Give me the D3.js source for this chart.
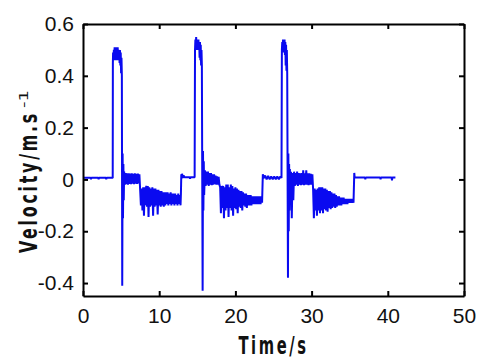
<!DOCTYPE html>
<html>
<head>
<meta charset="utf-8">
<script src="https://cdn.jsdelivr.net/npm/d3@7"></script>
<style>
  body { margin: 0; background: #fff; }
  svg { display: block; }
</style>
</head>
<body>
<div id="chart"></div>
<script>
// Data (time in s, velocity in m/s) -----------------------------------------------------------------------------
const restStartT = [0, 1.0, 1.05, 1.1, 2.0, 2.05, 2.1, 3.0, 3.05, 3.1, 3.9];
const restStartV = [0.006, 0.006, 0.001, 0.006, 0.006, 0.001, 0.006, 0.006, 0.001, 0.006, 0.006];

// cycle 1: pulse, fall, first settling band
const cycle1T = [
  3.92, 3.95, 4.0, 4.05, 4.1, 4.15, 4.2, 4.25, 4.3, 4.35, 4.4, 4.45, 4.5, 4.55, 4.6, 4.65, 4.7, 4.75, 4.8, 4.85, 4.9, 4.95, 5.0, 5.05, 5.1,
  5.15, 5.2, 5.25, 5.3, 5.35,
  5.4, 5.5, 5.6, 5.7, 5.8, 5.9, 6.0, 6.1, 6.2, 6.3, 6.4, 6.5, 6.6, 6.7, 6.8, 6.9, 7.0, 7.1, 7.2, 7.3, 7.4
];
const cycle1V = [
  0.45, 0.49, 0.46, 0.50, 0.46, 0.51, 0.47, 0.51, 0.46, 0.51, 0.47, 0.51, 0.46, 0.51, 0.47, 0.50, 0.46, 0.50, 0.45, 0.50, 0.44, 0.49, 0.41, 0.47, 0.40,
  -0.41, 0.10, -0.15, 0.06, -0.08,
  0.03, -0.02, 0.025, -0.018, 0.024, -0.02, 0.024, -0.017, 0.023, -0.018, 0.024, -0.016, 0.022, -0.018, 0.024, -0.016, 0.022, -0.017, 0.023, -0.015, 0.02
];
// cycle 1: second settling band and level
const settle1T = [
  7.5, 7.6, 7.7, 7.8, 7.9, 8.0, 8.1, 8.2, 8.3, 8.4, 8.5, 8.6, 8.7, 8.8, 8.9, 9.0, 9.1, 9.2, 9.3, 9.4, 9.5, 9.6, 9.7, 9.8, 9.9, 10.0, 10.1,
  10.2, 10.3, 10.4, 10.5, 10.6, 10.7, 10.8, 10.9, 11.0, 11.1, 11.2, 11.3, 11.4, 11.5, 11.6, 11.7, 11.8, 11.9, 12.0, 12.1, 12.2, 12.3, 12.4, 12.5, 12.6, 12.7, 12.8,
  12.85, 12.9, 12.95, 13.0, 13.1, 13.2, 13.3, 14.0, 14.05, 14.1, 14.65
];
const settle1V = [
  -0.04, -0.10, -0.035, -0.12, -0.03, -0.14, -0.03, -0.10, -0.025, -0.105, -0.025, -0.145, -0.03, -0.105, -0.035, -0.10, -0.03, -0.14, -0.035, -0.105, -0.035, -0.10, -0.04, -0.135, -0.04, -0.10, -0.045,
  -0.105, -0.045, -0.10, -0.05, -0.105, -0.05, -0.10, -0.05, -0.095, -0.05, -0.10, -0.055, -0.095, -0.05, -0.10, -0.055, -0.095, -0.055, -0.10, -0.055, -0.095, -0.06, -0.10, -0.055, -0.095, -0.06, -0.10,
  -0.055, 0.02, 0.004, 0.022, 0.006, 0.016, 0.008, 0.008, 0.003, 0.008, 0.008
];

// cycle 2
const cycle2T = [
  14.7, 14.75, 14.8, 14.85, 14.9, 14.95, 15.0, 15.05, 15.1, 15.15, 15.2, 15.25, 15.3, 15.35, 15.4, 15.45, 15.5, 15.55, 15.6,
  15.7, 15.75, 15.8, 15.85, 15.9,
  16.0, 16.1, 16.2, 16.3, 16.4, 16.5, 16.6, 16.7, 16.8, 16.9, 17.0, 17.1, 17.2, 17.3, 17.4, 17.5, 17.6, 17.7, 17.8, 17.9
];
const cycle2V = [
  0.50, 0.54, 0.50, 0.55, 0.51, 0.54, 0.50, 0.54, 0.51, 0.54, 0.50, 0.53, 0.47, 0.53, 0.46, 0.52, 0.44, 0.50, 0.44,
  -0.43, 0.11, -0.12, 0.07, -0.06,
  0.035, -0.025, 0.03, -0.02, 0.03, -0.025, 0.025, -0.02, 0.025, -0.022, 0.02, -0.02, 0.02, -0.018, 0.015, -0.02, 0.012, -0.02, 0.01, -0.02
];
const settle2T = [
  18.0, 18.1, 18.2, 18.3, 18.4, 18.5, 18.6, 18.7, 18.8, 18.9, 19.0, 19.1, 19.2, 19.3, 19.4, 19.5, 19.6, 19.7, 19.8, 19.9, 20.0, 20.1, 20.2, 20.3, 20.4, 20.5, 20.6, 20.7,
  20.8, 20.9, 21.0, 21.1, 21.2, 21.3, 21.4, 21.5, 21.6, 21.7, 21.8, 21.9, 22.0, 22.1, 22.2, 22.3, 22.4, 22.5, 22.6, 22.7, 22.8, 22.9, 23.0, 23.1, 23.2, 23.3, 23.4, 23.5,
  23.6, 23.7, 23.9, 24.1, 24.3, 24.5, 24.7, 24.9, 25.1, 25.3, 25.5, 25.7, 25.9, 26.05
];
const settle2V = [
  -0.03, -0.13, -0.025, -0.11, -0.025, -0.15, -0.03, -0.12, -0.02, -0.11, -0.02, -0.145, -0.03, -0.11, -0.02, -0.12, -0.025, -0.14, -0.035, -0.11, -0.03, -0.115, -0.035, -0.13, -0.04, -0.105, -0.045, -0.11,
  -0.045, -0.12, -0.05, -0.10, -0.055, -0.105, -0.055, -0.11, -0.06, -0.10, -0.06, -0.10, -0.06, -0.10, -0.065, -0.095, -0.065, -0.095, -0.065, -0.095, -0.065, -0.095, -0.065, -0.095, -0.065, -0.095, -0.065, -0.09,
  0.02, 0.004, 0.015, 0.0, 0.014, 0.0, 0.012, 0.0, 0.012, 0.0, 0.012, 0.0, 0.012, 0.006
];

// cycle 3
const cycle3T = [
  26.1, 26.15, 26.2, 26.25, 26.3, 26.35, 26.4, 26.45, 26.5, 26.55, 26.6, 26.65, 26.7, 26.75, 26.8,
  26.9, 26.95, 27.0, 27.05, 27.1, 27.15, 27.2,
  27.3, 27.4, 27.5, 27.6, 27.7, 27.8, 27.9, 28.0, 28.1, 28.2, 28.3, 28.4, 28.5, 28.6, 28.7, 28.8, 28.9, 29.0, 29.1, 29.2, 29.3, 29.4, 29.5, 29.6, 29.7, 29.8, 29.9, 30.0, 30.1
];
const cycle3V = [
  0.50, 0.53, 0.50, 0.54, 0.49, 0.53, 0.50, 0.54, 0.48, 0.53, 0.44, 0.52, 0.42, 0.50, 0.41,
  -0.38, 0.10, -0.2, 0.06, -0.12, 0.04, -0.06,
  0.03, -0.15, 0.025, -0.08, 0.03, -0.025, 0.025, -0.02, 0.03, -0.025, 0.025, -0.02, 0.024, -0.022, 0.025, -0.02, 0.035, -0.022, 0.024, -0.02, 0.035, -0.02, 0.024, -0.022, 0.024, -0.02, 0.022, -0.02, 0.02
];
const settle3T = [
  30.2, 30.3, 30.4, 30.5, 30.6, 30.7, 30.8, 30.9, 31.0, 31.1, 31.2, 31.3, 31.4, 31.5, 31.6, 31.7, 31.8, 31.9, 32.0, 32.1, 32.2, 32.3, 32.4, 32.5, 32.6, 32.7, 32.8,
  32.9, 33.0, 33.1, 33.2, 33.3, 33.4, 33.5, 33.6, 33.7, 33.8, 33.9, 34.0, 34.1, 34.2, 34.3, 34.4, 34.5, 34.6, 34.7, 34.8, 34.9, 35.0, 35.1, 35.2, 35.3, 35.4, 35.5
];
const settle3V = [
  -0.04, -0.15, -0.035, -0.12, -0.04, -0.14, -0.035, -0.12, -0.03, -0.13, -0.03, -0.12, -0.03, -0.13, -0.035, -0.115, -0.035, -0.12, -0.04, -0.125, -0.045, -0.11, -0.045, -0.115, -0.05, -0.11, -0.055,
  -0.105, -0.055, -0.11, -0.06, -0.105, -0.065, -0.10, -0.065, -0.10, -0.07, -0.10, -0.07, -0.095, -0.07, -0.095, -0.075, -0.095, -0.075, -0.095, -0.075, -0.09, -0.075, -0.09, -0.075, -0.09, -0.075, -0.09
];

const restEndT = [35.6, 35.65, 37.0, 37.05, 37.1, 39.0, 39.05, 39.1, 40.5, 40.55, 40.6, 41.0];
const restEndV = [0.025, 0.007, 0.007, 0.001, 0.007, 0.007, 0.001, 0.007, 0.007, -0.004, 0.007, 0.007];

const xTicks = [0, 10, 20, 30, 40, 50];
const yTicks = [-0.4, -0.2, 0, 0.2, 0.4, 0.6];

// Canvas ---------------------------------------------------------------------------------------------------------
const canvasWidth = 483;
const canvasHeight = 361;
const leftPadding = 83;
const rightPadding = 19;
const topPadding = 24;
const bottomPadding = 65;

const svg = d3.select("#chart")
  .append("svg")
  .attr("width", canvasWidth)
  .attr("height", canvasHeight);

const xScale = d3.scaleLinear()
  .domain([0, 50])
  .range([leftPadding, canvasWidth - rightPadding]);
const yScale = d3.scaleLinear()
  .domain([-0.45, 0.6])
  .range([canvasHeight - bottomPadding, topPadding]);

const tickFont = "'Liberation Sans', Arial, sans-serif";
const titleFont = "'Liberation Sans Narrow', 'DejaVu Sans Condensed', sans-serif";

// Line -------------------------------------------------------------------------------------------------------------
const timeS = [].concat(restStartT, cycle1T, settle1T, cycle2T, settle2T, cycle3T, settle3T, restEndT);
const velocity = [].concat(restStartV, cycle1V, settle1V, cycle2V, settle2V, cycle3V, settle3V, restEndV);
const points = d3.zip(timeS, velocity);

svg.append("path")
  .datum(points)
  .attr("fill", "none")
  .attr("stroke", "#0a0af0")
  .attr("stroke-width", 2)
  .attr("stroke-linejoin", "bevel")
  .attr("d", d3.line().x(d => xScale(d[0])).y(d => yScale(d[1])));

// Axes (box with inward ticks) -----------------------------------------------------------------------------------
const xAxis = svg.append("g")
  .attr("transform", "translate(0," + (canvasHeight - bottomPadding) + ")")
  .call(d3.axisBottom(xScale).tickValues(xTicks).tickSizeInner(-5).tickSizeOuter(0).tickPadding(12)
    .tickFormat(d3.format("d")));
const yAxis = svg.append("g")
  .attr("transform", "translate(" + leftPadding + ",0)")
  .call(d3.axisLeft(yScale).tickValues(yTicks).tickSizeInner(-5).tickSizeOuter(0).tickPadding(9)
    .tickFormat(d => d === 0 ? "0" : d3.format(".1f")(d).replace("\u2212", "-")));
const topAxis = svg.append("g")
  .attr("transform", "translate(0," + topPadding + ")")
  .call(d3.axisTop(xScale).tickValues(xTicks).tickSizeInner(-5).tickSizeOuter(0).tickFormat(""));
const rightAxis = svg.append("g")
  .attr("transform", "translate(" + (canvasWidth - rightPadding) + ",0)")
  .call(d3.axisRight(yScale).tickValues(yTicks).tickSizeInner(-5).tickSizeOuter(0).tickFormat(""));

svg.selectAll(".domain")
  .attr("stroke", "#000")
  .attr("stroke-width", 2);
svg.selectAll(".tick line")
  .attr("stroke", "#000")
  .attr("stroke-width", 2);
svg.selectAll(".tick text")
  .attr("fill", "#111")
  .style("font-family", tickFont)
  .style("font-size", "21px");

// Axis titles ----------------------------------------------------------------------------------------------------
svg.append("text")
  .attr("transform", "translate(" + ((leftPadding + canvasWidth - rightPadding) / 2 - 35) + ",354) scale(1,1.3)")
  .attr("textLength", 70)
  .attr("lengthAdjust", "spacingAndGlyphs")
  .style("font-family", titleFont)
  .style("font-weight", "bold")
  .style("font-size", "19px")
  .style("letter-spacing", "3px")
  .attr("fill", "#111")
  .text("Time/s");

svg.append("text")
  .attr("transform", "translate(37,253) rotate(-90) scale(1,1.3)")
  .attr("textLength", 142)
  .attr("lengthAdjust", "spacingAndGlyphs")
  .style("font-family", titleFont)
  .style("font-weight", "bold")
  .style("font-size", "19px")
  .style("letter-spacing", "3px")
  .attr("fill", "#111")
  .text("Velocity/m.s");
svg.append("text")
  .attr("transform", "translate(28,108) rotate(-90)")
  .attr("textLength", 18)
  .attr("lengthAdjust", "spacingAndGlyphs")
  .style("font-family", titleFont)
  .style("font-size", "12px")
  .attr("fill", "#111")
  .text("-1");
</script>
</body>
</html>
